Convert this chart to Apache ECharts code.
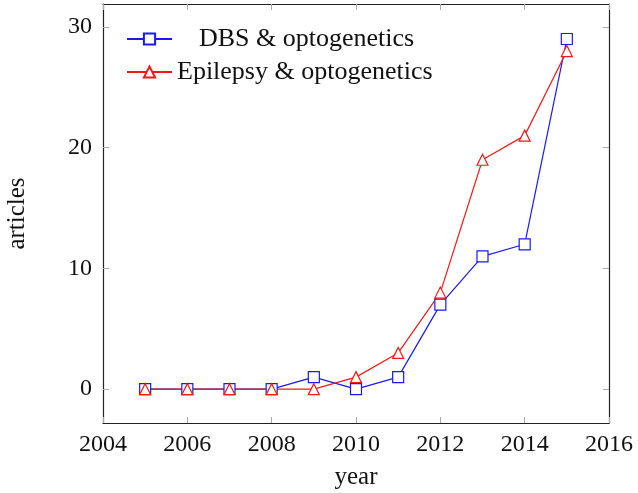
<!DOCTYPE html>
<html>
<head>
<meta charset="utf-8">
<script src="https://cdn.jsdelivr.net/npm/echarts@6/dist/echarts.min.js"></script>
<style>html,body{margin:0;padding:0;background:#fff}#c{width:638px;height:493px}</style>
</head>
<body>
<div id="c"></div>
<script>
const years = [2005, 2006, 2007, 2008, 2009, 2010, 2011, 2012, 2013, 2014, 2015];
const dbs = [0, 0, 0, 0, 1, 0, 1, 7, 11, 12, 29];
const epilepsy = [0, 0, 0, 0, 0, 1, 3, 8, 19, 21, 28];
const seriesNames = ['DBS & optogenetics', 'Epilepsy & optogenetics'];
const yTicks = [0, 10, 20, 30];
const xTicks = [2004, 2006, 2008, 2010, 2012, 2014, 2016];

const FONT = 'Liberation Serif';
const chart = echarts.init(document.getElementById('c'));
const frame = {show: true, onZero: false, lineStyle: {color: '#222', width: 1.2}};
const tick = {show: true, inside: true, length: 6, lineStyle: {color: '#aaa', width: 1}};
const yMin = -2.8, yMax = 31.9;
chart.setOption({
  animation: false,
  backgroundColor: '#fff',
  grid: {left: 103, right: 29, top: 4, bottom: 70, containLabel: false, outerBoundsMode: 'none'},
  legend: {
    left: 121, top: 21, orient: 'vertical', itemWidth: 45, itemHeight: 14, itemGap: 7,
    textStyle: {fontFamily: FONT, fontSize: 26, color: '#111', rich: {a: {fontFamily: FONT, fontSize: 26, color: '#111', padding: [0, 0, 0, 22]}}},
    formatter: n => n === seriesNames[0] ? '{a|' + n + '}' : n,
    data: seriesNames
  },
  xAxis: [{
    type: 'value', min: 2004, max: 2016, interval: 2,
    name: 'year', nameLocation: 'middle', nameGap: 42,
    nameTextStyle: {fontFamily: FONT, fontSize: 25, color: '#111'},
    axisLine: frame, axisTick: tick, splitLine: {show: false},
    axisLabel: {fontFamily: FONT, fontSize: 24, color: '#111', margin: 10, customValues: xTicks, formatter: v => String(v)}
  }, {
    type: 'value', position: 'top', min: 2004, max: 2016, interval: 2,
    axisLine: frame, axisTick: tick, axisLabel: {show: false}, splitLine: {show: false}
  }],
  yAxis: [{
    type: 'value', min: yMin, max: yMax,
    name: 'articles', nameLocation: 'middle', nameGap: 73, nameRotate: 90,
    nameTextStyle: {fontFamily: FONT, fontSize: 25, color: '#111'},
    axisLine: frame, splitLine: {show: false},
    axisTick: Object.assign({customValues: yTicks}, tick),
    axisLabel: {fontFamily: FONT, fontSize: 24, color: '#111', margin: 11, customValues: yTicks}
  }, {
    type: 'value', position: 'right', min: yMin, max: yMax,
    axisLine: frame, splitLine: {show: false},
    axisTick: Object.assign({customValues: yTicks}, tick),
    axisLabel: {show: false, customValues: yTicks}
  }],
  series: [{
    name: seriesNames[0], type: 'line',
    data: years.map((y, i) => [y, dbs[i]]),
    symbol: 'rect', symbolSize: 11,
    lineStyle: {color: '#1a1aee', width: 1.2},
    itemStyle: {color: '#fff', borderColor: '#1a1aee', borderWidth: 1.2},
    color: '#1a1aee'
  }, {
    name: seriesNames[1], type: 'line',
    data: years.map((y, i) => [y, epilepsy[i]]),
    symbol: 'triangle', symbolSize: 11,
    lineStyle: {color: '#ee1a1a', width: 1.2},
    itemStyle: {color: '#fff', borderColor: '#ee1a1a', borderWidth: 1.2},
    color: '#ee1a1a'
  }]
});
</script>
</body>
</html>
